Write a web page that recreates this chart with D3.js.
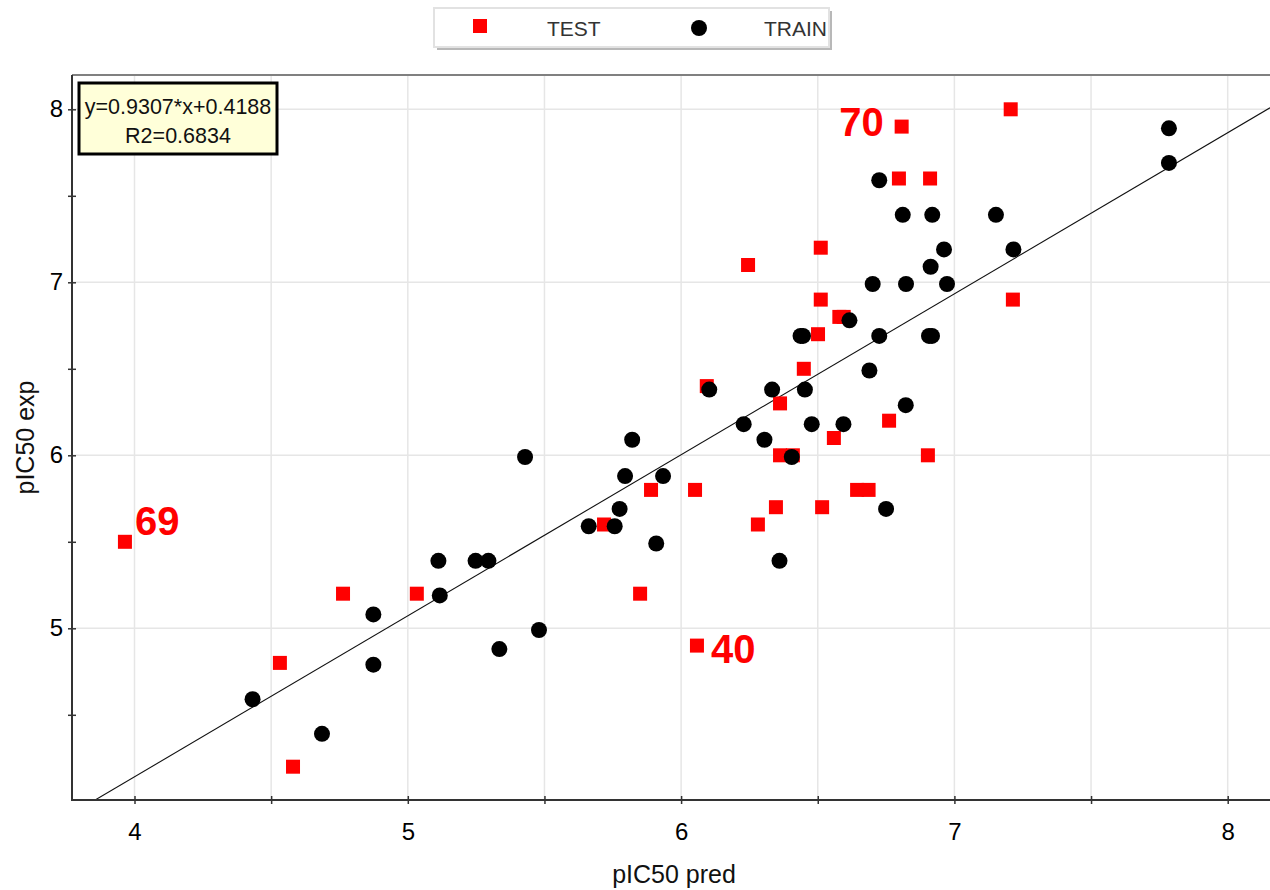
<!DOCTYPE html>
<html>
<head>
<meta charset="utf-8">
<script src="https://cdn.jsdelivr.net/npm/d3@7"></script>
<style>
  html, body { margin: 0; padding: 0; background: #fff; }
  svg { display: block; font-family: "Liberation Sans", Arial, sans-serif; }
</style>
</head>
<body>
<svg id="chart" width="1270" height="890"></svg>
<script>
// ---- data ----
const testPred = [3.965, 6.807, 7.206, 6.797, 6.911, 6.511, 6.245, 6.511, 7.214, 6.579, 6.595, 6.501,
  6.449, 6.094, 6.362, 6.761, 6.559, 6.362, 6.409, 6.903, 5.890, 6.051, 6.644, 6.686, 6.347, 6.516,
  5.718, 6.281, 4.763, 5.033, 5.850, 6.058, 4.532, 4.580];
const testExp = [5.5, 7.9, 8.0, 7.6, 7.6, 7.2, 7.1, 6.9, 6.9, 6.8, 6.8, 6.7,
  6.5, 6.4, 6.3, 6.2, 6.1, 6.0, 6.0, 6.0, 5.8, 5.8, 5.8, 5.8, 5.7, 5.7,
  5.6, 5.6, 5.2, 5.2, 5.2, 4.9, 4.8, 4.2];
const trainPred = [7.785, 7.785, 6.725, 6.811, 6.919, 7.152, 6.962, 7.216, 6.913, 6.701, 6.823, 6.973,
  6.616, 6.437, 6.446, 6.725, 6.907, 6.918, 6.689, 6.103, 6.333, 6.453, 6.822, 6.229, 6.478, 6.594,
  5.821, 6.305, 5.429, 6.405, 5.795, 5.934, 5.775, 6.750, 5.662, 5.757, 5.909, 5.112, 5.248, 5.295,
  5.117, 6.360, 4.874, 5.480, 5.335, 4.874, 4.432, 4.686];
const trainExp = [7.89, 7.69, 7.59, 7.39, 7.39, 7.39, 7.19, 7.19, 7.09, 6.99, 6.99, 6.99,
  6.78, 6.69, 6.69, 6.69, 6.69, 6.69, 6.49, 6.38, 6.38, 6.38, 6.29, 6.18, 6.18, 6.18,
  6.09, 6.09, 5.99, 5.99, 5.88, 5.88, 5.69, 5.69, 5.59, 5.59, 5.49, 5.39, 5.39, 5.39,
  5.19, 5.39, 5.08, 4.99, 4.88, 4.79, 4.59, 4.39];
const seriesNames = ["TEST", "TRAIN"];
const outlierIds = ["69", "70", "40"];
const outlierIndex = [0, 1, 31]; // indexes into the TEST arrays
const slope = 0.9307, intercept = 0.4188, r2 = 0.6834;
const xTicks = [4, 4.5, 5, 5.5, 6, 6.5, 7, 7.5, 8];
const yTicks = [4.5, 5, 5.5, 6, 6.5, 7, 7.5, 8];
const xTitle = "pIC50 pred", yTitle = "pIC50 exp";

// ---- layout ----
const svg = d3.select("#chart");
const L = 72, R = 1270, T = 75, B = 800;
const x = d3.scaleLinear().domain([4, 8]).range([134.5, 1227.7]);
const y = d3.scaleLinear().domain([5, 8]).range([628.3, 109.3]);
const x0 = x.invert(L), x1 = x.invert(R);

svg.append("defs").append("clipPath").attr("id", "plotclip")
  .append("rect").attr("x", L).attr("y", T).attr("width", R - L).attr("height", B - T);

// grid
const grid = svg.append("g");
grid.selectAll(".vg").data(xTicks).join("line")
  .attr("x1", d => x(d)).attr("x2", d => x(d)).attr("y1", T).attr("y2", B)
  .attr("stroke", "#e6e6e6").attr("stroke-width", 1.5);
grid.selectAll(".hg").data(yTicks.filter(Number.isInteger)).join("line")
  .attr("x1", L).attr("x2", R).attr("y1", d => y(d)).attr("y2", d => y(d))
  .attr("stroke", "#e6e6e6").attr("stroke-width", 1.5);

// top border
svg.append("line").attr("x1", L).attr("x2", R).attr("y1", T).attr("y2", T)
  .attr("stroke", "#808080").attr("stroke-width", 2);

// regression line
svg.append("line").attr("clip-path", "url(#plotclip)")
  .attr("x1", x(x0)).attr("y1", y(slope * x0 + intercept))
  .attr("x2", x(x1)).attr("y2", y(slope * x1 + intercept))
  .attr("stroke", "#111").attr("stroke-width", 1.1);

// points
const test = testPred.map((p, i) => ({ p, e: testExp[i] }));
const train = trainPred.map((p, i) => ({ p, e: trainExp[i] }));
const sq = 14;
svg.append("g").selectAll("rect").data(test).join("rect")
  .attr("x", d => x(d.p) - sq / 2).attr("y", d => y(d.e) - sq / 2)
  .attr("width", sq).attr("height", sq).attr("fill", "#ff0000");
svg.append("g").selectAll("circle").data(train).join("circle")
  .attr("cx", d => x(d.p)).attr("cy", d => y(d.e)).attr("r", 8).attr("fill", "#000");

// outlier labels
const labelOffsets = [[10, -7, "start"], [-18, 9, "end"], [14, 17, "start"]];
svg.append("g").selectAll("text").data(outlierIds).join("text")
  .attr("x", (d, i) => x(testPred[outlierIndex[i]]) + labelOffsets[i][0])
  .attr("y", (d, i) => y(testExp[outlierIndex[i]]) + labelOffsets[i][1])
  .attr("text-anchor", (d, i) => labelOffsets[i][2])
  .attr("font-size", 40).attr("font-weight", "bold").attr("fill", "#ff0000")
  .text(d => d);

// axes
const xAxis = svg.append("g").attr("transform", `translate(0,${B})`)
  .call(d3.axisBottom(x).tickValues(xTicks).tickSize(4).tickPadding(19)
    .tickFormat(d => Number.isInteger(d) ? d : ""));
xAxis.select(".domain").remove();
xAxis.selectAll(".tick line").attr("y1", -4).attr("y2", 4).attr("stroke", "#333").attr("stroke-width", 1.5);
xAxis.selectAll(".tick text").attr("font-size", 24).attr("fill", "#000")
  .attr("font-family", "'Liberation Sans', Arial, sans-serif");

const yAxis = svg.append("g").attr("transform", `translate(${L},0)`)
  .call(d3.axisLeft(y).tickValues(yTicks).tickSize(4).tickPadding(5)
    .tickFormat(d => Number.isInteger(d) ? d : ""));
yAxis.select(".domain").remove();
yAxis.selectAll(".tick line").attr("x1", -4).attr("x2", 4).attr("stroke", "#333").attr("stroke-width", 1.5);
yAxis.selectAll(".tick text").attr("font-size", 24).attr("fill", "#000")
  .attr("font-family", "'Liberation Sans', Arial, sans-serif");

svg.append("line").attr("x1", L).attr("x2", L).attr("y1", T).attr("y2", B + 1)
  .attr("stroke", "#333").attr("stroke-width", 2);
svg.append("line").attr("x1", L - 1).attr("x2", R).attr("y1", B).attr("y2", B)
  .attr("stroke", "#333").attr("stroke-width", 2);

// axis titles
svg.append("text").attr("x", 674).attr("y", 883).attr("text-anchor", "middle")
  .attr("font-size", 25).attr("fill", "#111").text(xTitle);
svg.append("text").attr("transform", `translate(34,${(T + B) / 2}) rotate(-90)`)
  .attr("text-anchor", "middle").attr("font-size", 25).attr("fill", "#111").text(yTitle);

// stats box
const sb = svg.append("g");
sb.append("rect").attr("x", 79).attr("y", 83).attr("width", 198).attr("height", 71)
  .attr("fill", "#ffffd9").attr("stroke", "#000").attr("stroke-width", 3);
sb.append("text").attr("x", 178).attr("y", 114).attr("text-anchor", "middle")
  .attr("font-size", 21.5).attr("fill", "#111")
  .text(`y=${slope}*x+${intercept}`);
sb.append("text").attr("x", 178).attr("y", 143).attr("text-anchor", "middle")
  .attr("font-size", 21.5).attr("fill", "#111").text(`R2=${r2}`);

// legend
const lg = svg.append("g");
lg.append("rect").attr("x", 437).attr("y", 11).attr("width", 395).attr("height", 39).attr("fill", "#b8b8b8");
lg.append("rect").attr("x", 434).attr("y", 8).attr("width", 395).attr("height", 39)
  .attr("fill", "#fff").attr("stroke", "#e2e2e2").attr("stroke-width", 2);
lg.append("rect").attr("x", 473).attr("y", 19).attr("width", 14).attr("height", 14).attr("fill", "#ff0000");
lg.append("circle").attr("cx", 699).attr("cy", 28).attr("r", 8).attr("fill", "#000");
lg.selectAll(".lt").data(seriesNames).join("text")
  .attr("x", (d, i) => [547, 764][i]).attr("y", 36)
  .attr("font-size", 21).attr("fill", "#333").text(d => d);
</script>
</body>
</html>
